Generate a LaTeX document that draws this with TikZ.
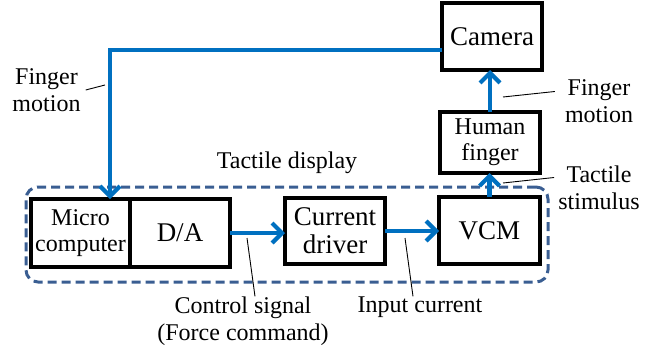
\documentclass[tikz,border=0pt]{standalone}
\usepackage{fontspec}
\setmainfont{LiberationSerif}[Extension=.ttf,UprightFont=*-Regular,BoldFont=*-Bold]
\usepackage{xcolor}
\definecolor{flowblue}{HTML}{0070C0}
\definecolor{dashblue}{HTML}{3A5E92}
\usetikzlibrary{arrows.meta,positioning}

\begin{document}
\begin{tikzpicture}[x=1pt,y=-1pt,
  block/.style={draw=black,line width=3.2pt,fill=white,align=center,inner sep=0pt,outer sep=0pt,font=\fontsize{27}{28}\selectfont},
  smallblock/.style={block,font=\fontsize{24}{26}\selectfont},
  flow/.style={draw=flowblue,line width=4.2pt,-{Straight Barb[length=10pt,width=20pt]}},
  display/.style={draw=dashblue,line width=3pt,dash pattern=on 9pt off 5pt,rounded corners=12pt,minimum width=522pt,minimum height=95pt,inner sep=0pt},
  note/.style={align=center,inner sep=0pt,font=\fontsize{24}{27}\selectfont},
  lead/.style={draw=black,line width=0.9pt}
]
\useasboundingbox (0,0) rectangle (657,351);
% tactile display frame
\node[display] (disp) at (287,234.5) {};
\node[note] (tdisp) at (287,163) {Tactile display};
% blocks
\node[smallblock,minimum width=99pt,minimum height=68pt] (micro) at (80.5,233) {Micro\\computer};
\node[block,minimum width=100pt,minimum height=68pt,right=0pt of micro] (da) {D/A};
\node[block,minimum width=100pt,minimum height=66pt] (driver) at (335,231) {Current\\driver};
\node[block,minimum width=101pt,minimum height=67pt] (vcm) at (489.5,230.5) {VCM};
\node[smallblock,minimum width=100pt,minimum height=61pt] (finger) at (490,142.5) {Human\\finger};
\node[block,minimum width=100pt,minimum height=67pt] (camera) at (492,36.5) {Camera};
% signal flow
\draw[flow] (da.east) -- (da.east -| driver.west);
\draw[flow] (driver.east) -- (driver.east -| vcm.west);
\draw[flow] (vcm.north) -- (vcm.north |- finger.south);
\draw[flow] (finger.north) -- (finger.north |- camera.south);
\draw[flow] ([yshift=-13.5pt]camera.west) -| ([xshift=29.5pt]micro.north);
% labels
\node[note] (fmleft) at (46.5,90) {Finger\\motion};
\node[note] (fmright) at (599,101.5) {Finger\\motion};
\node[note] (stim) at (599,187.5) {Tactile\\stimulus};
\node[note] (ctrl) at (243,321) {Control signal\\(Force command)};
\node[note] (icur) at (420,307) {Input current};
\coordinate (fmleftpt) at (105,85);
\coordinate (fmrightpt) at (503,97);
\coordinate (stimpt) at (503,183);
\coordinate (ctrlpt) at (247,238);
\coordinate (icurpt) at (405,238);
\draw[lead] ([xshift=5pt]fmleft.east) -- (fmleftpt);
\draw[lead] ([shift={(-10pt,10pt)}]fmright.west) -- (fmrightpt);
\draw[lead] ([shift={(-4pt,10pt)}]stim.west) -- (stimpt);
\draw[lead] ([xshift=12pt]ctrl.north) -- (ctrlpt);
\draw[lead] ([xshift=-7pt]icur.north) -- (icurpt);
\end{tikzpicture}
\end{document}
